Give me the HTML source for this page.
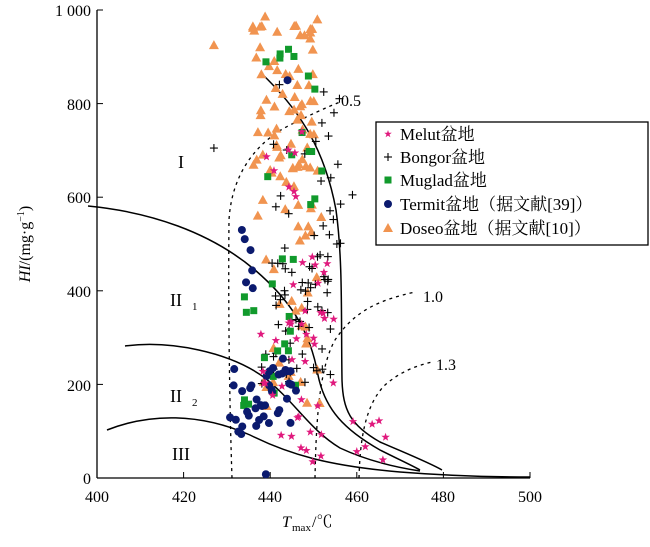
<!DOCTYPE html><html><head><meta charset="utf-8"><style>
body{margin:0;background:#fff;}
svg text{font-family:"Liberation Serif","Noto Serif CJK SC",serif;}
</style></head><body>
<svg id="s" width="650" height="542" viewBox="0 0 650 542" xmlns="http://www.w3.org/2000/svg">
<g stroke="#000" stroke-width="1.3" fill="none">
<line x1="97" y1="478" x2="530" y2="478"/>
<line x1="97" y1="10" x2="97" y2="478"/>
</g>
<g id="ticks" stroke="#000" stroke-width="1"></g>
<g font-size="16" fill="#000">
<text x="97" y="502" text-anchor="middle">400</text>
<text x="184" y="502" text-anchor="middle">420</text>
<text x="270" y="502" text-anchor="middle">440</text>
<text x="357" y="502" text-anchor="middle">460</text>
<text x="443" y="502" text-anchor="middle">480</text>
<text x="530" y="502" text-anchor="middle">500</text>
<text x="91" y="484" text-anchor="end">0</text>
<text x="91" y="391" text-anchor="end">200</text>
<text x="91" y="297" text-anchor="end">400</text>
<text x="91" y="203" text-anchor="end">600</text>
<text x="91" y="110" text-anchor="end">800</text>
<text x="91" y="16" text-anchor="end">1 000</text>
<text x="282" y="527" font-style="italic">T</text><text x="292" y="531" font-size="11">max</text><text x="312" y="527">/℃</text>
<text transform="translate(30,244) rotate(-90)" text-anchor="middle"><tspan font-style="italic">HI</tspan>/(mg·g<tspan font-size="10" dy="-6">−1</tspan><tspan dy="6">)</tspan></text>
<text x="178" y="168" font-size="18">I</text>
<text x="170" y="306" font-size="18">II</text><text x="192" y="310" font-size="11">1</text>
<text x="170" y="402" font-size="18">II</text><text x="192" y="406" font-size="11">2</text>
<text x="172" y="460" font-size="18">III</text>
<text x="341" y="106">0.5</text>
<text x="423" y="302">1.0</text>
<text x="436" y="370">1.3</text>
</g>
<g stroke="#000" stroke-width="1.5" fill="none">
<path d="M261,73 C300,110 325,150 336,210 C343,260 341,320 342,380 C343,410 350,425 380,442 C410,455 430,463 442,470"/>
<path d="M88,206 C150,212 210,232 255,270 C290,300 310,330 318,375 C325,410 345,430 380,450 C400,460 415,467 420,470"/>
<path d="M125,346 C170,340 230,352 265,378 C295,402 310,430 340,448 C370,462 400,468 420,471"/>
<path d="M107,430 C150,413 200,413 250,435 C290,455 330,466 400,472 C450,476 500,477 530,477"/>
</g>
<g stroke="#000" stroke-width="1.3" fill="none" stroke-dasharray="3,4">
<path d="M232,478 C230,420 228,320 229,220 C232,170 260,140 290,125 C310,115 325,108 340,102"/>
<path d="M315,478 C316,430 318,370 335,340 C355,310 380,300 415,292"/>
<path d="M359,478 C360,440 365,405 385,385 C400,372 415,366 432,362"/>
</g>
<g id="pts"></g>
<rect x="376" y="122" width="272" height="123" fill="#fff" stroke="#000" stroke-width="1.3"/>
<g font-size="17" fill="#000">
<text x="400" y="140">Melut盆地</text>
<text x="400" y="163">Bongor盆地</text>
<text x="400" y="186">Muglad盆地</text>
<text x="400" y="210">Termit盆地（据文献[39]）</text>
<text x="400" y="234">Doseo盆地（据文献[10]）</text>
</g>
<g id="leg"></g>
</svg>
<script>
var NS="http://www.w3.org/2000/svg";
var t=document.getElementById("ticks");
function ln(g,a,b,c,d){var l=document.createElementNS(NS,"line");l.setAttribute("x1",a);l.setAttribute("y1",b);l.setAttribute("x2",c);l.setAttribute("y2",d);g.appendChild(l);}
for(var i=0;i<=5;i++){var x=97+i*86.6;ln(t,x,478,x,472);var y=478-i*93.6;ln(t,97,y,103,y);}
var seed=7;function r(){seed=(seed*16807)%2147483647;return seed/2147483647;}
var P=document.getElementById("pts");
function X(v){return 97+(v-400)*4.33}function Y(v){return 478-v*0.468}
function star(g,x,y,s){s=s||4.5;var p="";for(var k=0;k<10;k++){var a=Math.PI/5*k-Math.PI/2,rr=k%2?s*0.4:s;p+=(x+rr*Math.cos(a)).toFixed(1)+","+(y+rr*Math.sin(a)).toFixed(1)+" ";}var e=document.createElementNS(NS,"polygon");e.setAttribute("points",p);e.setAttribute("fill","#e0197d");g.appendChild(e);}
function plus(g,x,y){var gg=document.createElementNS(NS,"g");gg.setAttribute("stroke","#000");gg.setAttribute("stroke-width","1.1");ln(gg,x-4,y,x+4,y);ln(gg,x,y-4,x,y+4);g.appendChild(gg);}
function sq(g,x,y){var e=document.createElementNS(NS,"rect");e.setAttribute("x",x-3.5);e.setAttribute("y",y-3.5);e.setAttribute("width",7);e.setAttribute("height",7);e.setAttribute("fill","#119a2c");g.appendChild(e);}
function circ(g,x,y){var e=document.createElementNS(NS,"circle");e.setAttribute("cx",x);e.setAttribute("cy",y);e.setAttribute("r",4);e.setAttribute("fill","#0b1a6e");g.appendChild(e);}
function tri(g,x,y){var e=document.createElementNS(NS,"polygon");e.setAttribute("points",(x-5)+","+(y+4)+" "+(x+5)+","+(y+4)+" "+x+","+(y-5));e.setAttribute("fill","#f19450");g.appendChild(e);}
function gen(n,f,x0,x1,y0,y1){for(var i=0;i<n;i++){f(P,X(x0+r()*(x1-x0)),Y(y0+r()*(y1-y0)));}}
gen(80,tri,436,451,560,1000);gen(30,tri,438,452,150,560);tri(P,X(427),Y(925));
gen(60,plus,438,454,200,480);gen(25,plus,440,457,480,860);plus(P,X(427),Y(705));plus(P,X(459),Y(605));
gen(18,sq,433,449,140,480);gen(15,sq,439,452,580,950);
gen(40,circ,430,447,90,260);gen(6,circ,431,436,400,550);circ(P,X(439),Y(8));circ(P,X(444),Y(850));
gen(35,star,437,455,80,480);gen(14,star,446,467,30,150);gen(8,star,438,448,600,740);
var L=document.getElementById("leg");
star(L,388,134,4);plus(L,388,157);sq(L,388,180);circ(L,388,204);tri(L,388,228);
</script>
</body></html>
